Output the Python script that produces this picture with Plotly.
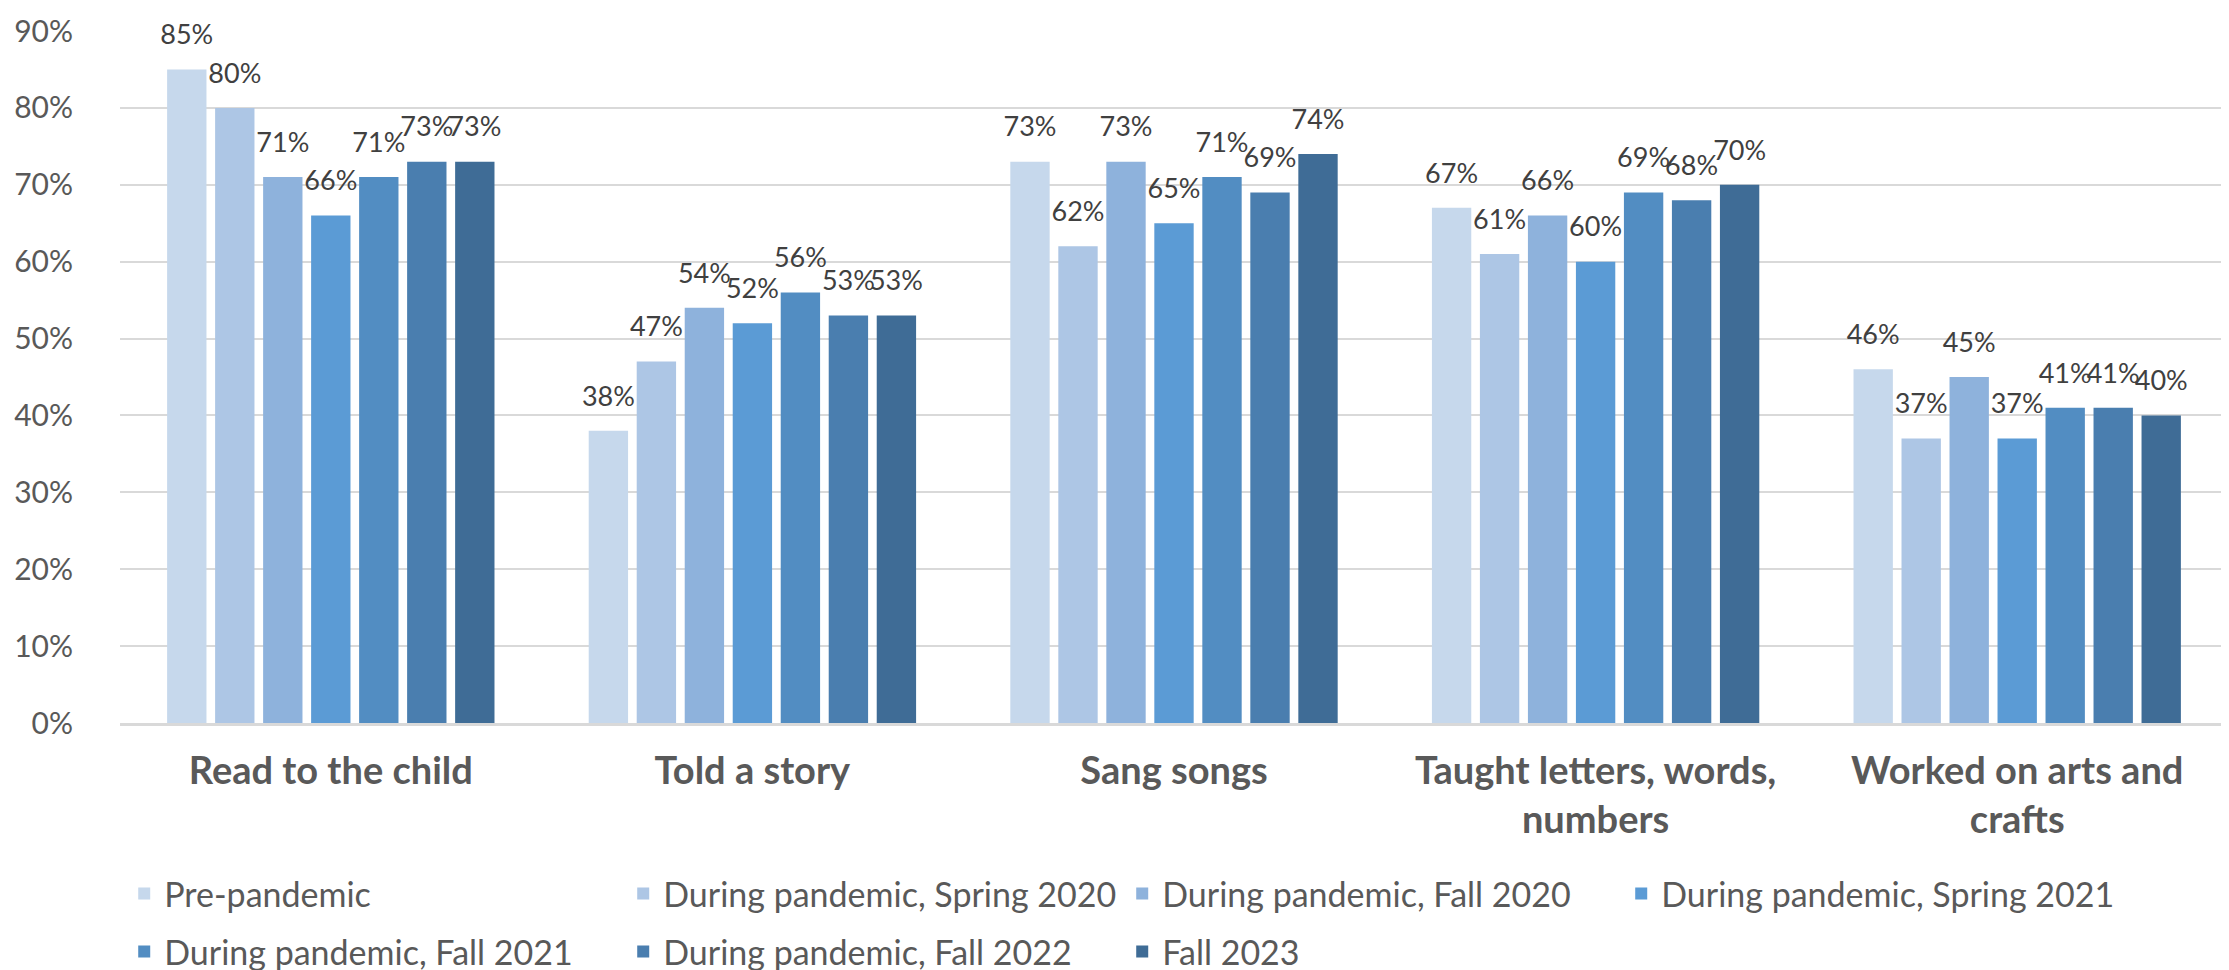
import plotly.graph_objects as go

categories = ["Read to the child", "Told a story", "Sang songs",
              "Taught letters, words,<br>numbers", "Worked on arts and<br>crafts"]

series_names = ["Pre-pandemic", "During pandemic, Spring 2020", "During pandemic, Fall 2020",
                "During pandemic, Spring 2021", "During pandemic, Fall 2021",
                "During pandemic, Fall 2022", "Fall 2023"]

pre_pandemic = [85, 38, 73, 67, 46]
spring_2020 = [80, 47, 62, 61, 37]
fall_2020 = [71, 54, 73, 66, 45]
spring_2021 = [66, 52, 65, 60, 37]
fall_2021 = [71, 56, 71, 69, 41]
fall_2022 = [73, 53, 69, 68, 41]
fall_2023 = [73, 53, 74, 70, 40]

series_values = [pre_pandemic, spring_2020, fall_2020, spring_2021, fall_2021, fall_2022, fall_2023]

colors = ["#C6D8EC", "#ADC6E5", "#8EB2DC", "#5B9BD5", "#528DC2", "#4A7EAF", "#3F6C96"]

FONT = "Lato"
GAP = 0.203

fig = go.Figure()

# first four series go in the top legend row, the rest in the second
for i, (name, vals, col) in enumerate(zip(series_names, series_values, colors)):
    fig.add_trace(go.Bar(
        x=categories, y=vals, name=name,
        marker=dict(color=col, line=dict(width=0)),
        offsetgroup=name,
        legend="legend" if i < 4 else "legend2",
    ))

# data labels, grouped the same way as the bars
for name, vals in zip(series_names, series_values):
    fig.add_trace(go.Scatter(
        x=categories, y=vals,
        mode="markers+text",
        text=[f"{v}%" for v in vals],
        textposition="top center",
        textfont=dict(family=FONT, size=27, color="#404040"),
        marker=dict(size=28, opacity=0),
        offsetgroup=name,
        showlegend=False,
        hoverinfo="skip",
        cliponaxis=False,
    ))

legend_style = dict(
    orientation="h",
    x=0.002, xanchor="left",
    yref="container", yanchor="middle",
    entrywidth=454, entrywidthmode="pixels",
    font=dict(family=FONT, size=34, color="#595959"),
    traceorder="normal",
)

fig.update_layout(
    width=2229, height=970,
    paper_bgcolor="white", plot_bgcolor="white",
    barmode="group", bargap=GAP, bargroupgap=0.18,
    scattermode="group", scattergap=GAP,
    margin=dict(l=112, r=9, t=23, b=255, autoexpand=False),
    font=dict(family=FONT, color="#595959"),
    legend=dict(legend_style, y=1 - 886 / 970),
    legend2=dict(legend_style, y=1 - 944 / 970),
    showlegend=True,
)

fig.update_yaxes(
    range=[0, 90], dtick=10, ticksuffix="%",
    showgrid=True, gridcolor="#D9D9D9", gridwidth=2,
    zeroline=False, showline=False,
    tickfont=dict(family=FONT, size=30, color="#595959"),
    ticks="outside", ticklen=40, tickcolor="rgba(0,0,0,0)",
    automargin=False,
)

fig.update_xaxes(
    showline=True, linecolor="#D9D9D9", linewidth=3,
    tickfont=dict(family=FONT, size=38, color="#595959", weight="bold"),
    ticks="outside", ticklen=12, tickcolor="rgba(0,0,0,0)",
    automargin=False,
)

fig.write_html("out.html")
